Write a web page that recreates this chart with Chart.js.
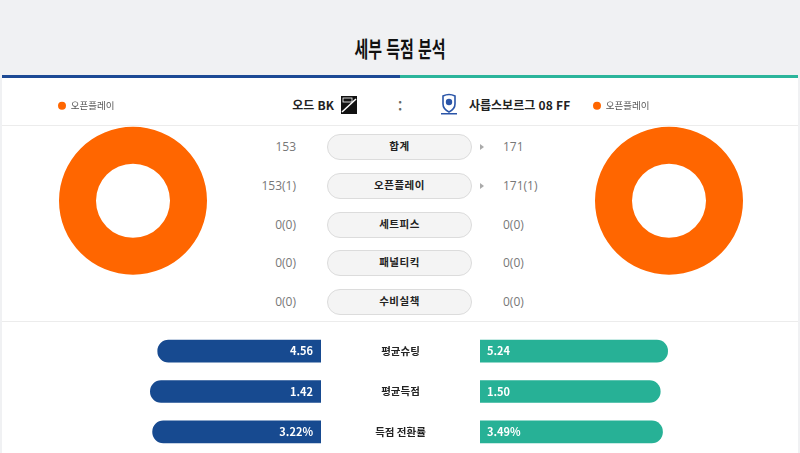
<!DOCTYPE html>
<html lang="ko">
<head>
<meta charset="utf-8">
<title>세부 득점 분석</title>
<script src="https://cdn.jsdelivr.net/npm/chart.js@4.4.1/dist/chart.umd.min.js"></script>
<style>
  html, body { margin: 0; padding: 0; }
  body {
    width: 800px; height: 453px; overflow: hidden; position: relative;
    background: #f0f1f3; font-family: "Noto Sans CJK KR", "Noto Sans", sans-serif;
  }
  .abs { position: absolute; }
  .title {
    left: 0; width: 800px; top: 30px; text-align: center;
    font-size: 22px; font-weight: 700; color: #111; line-height: 34px;
    transform: scaleX(0.68);
  }
  .panel { left: 2px; top: 75px; width: 796px; height: 378px; background: #fff; }
  .bar-home { left: 2px; top: 75px; width: 398px; height: 3px; background: #1d4a95; }
  .bar-away { left: 400px; top: 75px; width: 398px; height: 3px; background: #2bb59b; }
  .sep { left: 2px; width: 796px; height: 1px; background: #ececec; }
  .team { top: 95px; font-size: 12px; font-weight: 700; color: #222; line-height: 20px; white-space: nowrap; }
  .colon { left: 396px; top: 94px; width: 8px; text-align: center; font-size: 13px; color: #666; font-weight: 700; line-height: 24px; }
  .pill {
    left: 327px; width: 143px; height: 24px; border: 1px solid #dcdcdc; border-radius: 13px;
    background: #f4f4f4; text-align: center; font-size: 10.5px; font-weight: 700; color: #222;
    line-height: 21px; letter-spacing: 0.5px;
  }
  .val { font-family: "Open Sans", sans-serif; font-size: 12px; color: #777; line-height: 20px; white-space: nowrap; }
  .val.l { right: 504px; text-align: right; }
  .val.r { left: 503px; }
  .arrow { left: 480px; width: 0; height: 0; border-top: 3px solid transparent; border-bottom: 3px solid transparent; border-left: 4px solid #aaa; }
  canvas { position: absolute; }
</style>
</head>
<body>
<div class="abs panel"></div>
<div class="abs title">세부 득점 분석</div>
<div class="abs bar-home"></div>
<div class="abs bar-away"></div>
<div class="abs sep" style="top:125px"></div>
<div class="abs sep" style="top:321px"></div>

<div class="abs team" style="right:466px">오드 BK</div>
<svg class="abs" style="left:340px;top:95px" width="18" height="20" viewBox="0 0 18 20">
  <rect x="1" y="1" width="16" height="18" fill="#111"/>
  <path d="M2 17 L16 4" stroke="#fff" stroke-width="1.5"/>
  <rect x="3" y="3" width="9" height="4" fill="none" stroke="#fff" stroke-width="0.8"/>
</svg>
<div class="abs colon">:</div>
<svg class="abs" style="left:440px;top:93px" width="18" height="22" viewBox="0 0 18 22">
  <path d="M3 3 Q9 0 15 3 L15 11 Q15 16 9 19 Q3 16 3 11 Z" fill="#fff" stroke="#2a55a8" stroke-width="1.6"/>
  <circle cx="9" cy="9" r="3.2" fill="#2a55a8"/>
  <rect x="1" y="20" width="16" height="1.5" fill="#2a55a8"/>
</svg>
<div class="abs team" style="left:469px">사릅스보르그 08 FF</div>

<div id="rows"></div>

<canvas id="donutHome" style="left:48px;top:91px;width:170px;height:190px" width="170" height="190"></canvas>
<canvas id="donutAway" style="left:583px;top:91px;width:172px;height:190px" width="172" height="190"></canvas>
<canvas id="statHome" style="left:128px;top:331px;width:352px;height:121px" width="352" height="121"></canvas>
<canvas id="statAway" style="left:480px;top:331px;width:193px;height:121px" width="193" height="121"></canvas>

<script>
// 득점 유형별 (슈팅수(득점))
const rowLabels = ["합계", "오픈플레이", "세트피스", "패널티킥", "수비실책"];
const homeShots = [153, 153, 0, 0, 0];
const homeGoals = [null, 1, 0, 0, 0];
const awayShots = [171, 171, 0, 0, 0];
const awayGoals = [null, 1, 0, 0, 0];

// 도넛
const donutLabels = ["오픈플레이", "세트피스", "패널티킥", "수비실책"];
const donutColors = ["#ff6600", "#1d4a95", "#2bb59b", "#9e9e9e"];
const homeDonut = [153, 0, 0, 0];
const awayDonut = [171, 0, 0, 0];

// 하단 비교
const statLabels = ["평균슈팅", "평균득점", "득점 전환률"];
const homeStats = [4.56, 1.42, 3.22];
const awayStats = [5.24, 1.50, 3.49];
const statSuffix = ["", "", "%"];

const rowY = [147, 185.5, 224.5, 263, 302];
const KR = '"Noto Sans CJK KR", "Noto Sans", sans-serif';

// 가운데 표
const rowsEl = document.getElementById("rows");
let html = "";
rowLabels.forEach((lab, i) => {
  const y = rowY[i];
  const fmt = (s, g) => g === null ? String(s) : s + "(" + g + ")";
  html += `<div class="abs pill" style="top:${y - 13}px">${lab}</div>`;
  html += `<div class="abs val l" style="top:${y - 10}px">${fmt(homeShots[i], homeGoals[i])}</div>`;
  html += `<div class="abs val r" style="top:${y - 10}px">${fmt(awayShots[i], awayGoals[i])}</div>`;
  if (awayShots[i] > homeShots[i]) {
    html += `<div class="abs arrow" style="top:${y - 3}px"></div>`;
  }
});
rowsEl.innerHTML = html;

// 도넛 차트
const makeDonut = (id, data) => {
  return new Chart(document.getElementById(id), {
    type: "doughnut",
    data: {
      labels: donutLabels,
      datasets: [{ data: data, backgroundColor: donutColors, borderWidth: 0 }]
    },
    options: {
      responsive: false,
      animation: false,
      radius: 74,
      cutout: "50%",
      plugins: {
        tooltip: { enabled: false },
        legend: {
          position: "top",
          align: "start",
          labels: {
            usePointStyle: true,
            pointStyle: "circle",
            pointStyleWidth: 8,
            boxHeight: 5.66,
            padding: 10,
            color: "#555",
            font: { family: KR, size: 9.5 },
            filter: (item) => data[item.index] > 0
          }
        }
      }
    }
  });
};
makeDonut("donutHome", homeDonut);
makeDonut("donutAway", awayDonut);

// 하단 막대 (양 팀 비율)
const homeShare = homeStats.map((v, i) => v / (v + awayStats[i]));
const awayShare = awayStats.map((v, i) => v / (homeStats[i] + v));

const valueLabels = (values, side) => ({
  id: "valueLabels" + side,
  afterDatasetsDraw(chart) {
    const ctx = chart.ctx;
    const meta = chart.getDatasetMeta(0);
    ctx.save();
    ctx.fillStyle = "#fff";
    ctx.font = "bold 11px " + KR;
    ctx.textBaseline = "middle";
    meta.data.forEach((bar, i) => {
      const txt = values[i].toFixed(2) + statSuffix[i];
      if (side === "home") {
        ctx.textAlign = "right";
        ctx.fillText(txt, bar.base - 8, bar.y);
      } else {
        ctx.textAlign = "left";
        ctx.fillText(txt, bar.base + 7, bar.y);
      }
    });
    if (side === "home") {
      ctx.fillStyle = "#222";
      ctx.textAlign = "center";
      ctx.font = "bold 10.5px " + KR;
      const yScale = chart.scales.y;
      const cx = (chart.chartArea.right + chart.width) / 2;
      statLabels.forEach((lab, i) => ctx.fillText(lab, cx, yScale.getPixelForValue(i)));
    }
    ctx.restore();
  }
});

const makeStat = (id, share, values, side) => {
  const isHome = side === "home";
  return new Chart(document.getElementById(id), {
    type: "bar",
    data: {
      labels: statLabels,
      datasets: [{
        data: share,
        backgroundColor: isHome ? "#174a90" : "#27b196",
        barThickness: 22,
        borderSkipped: false,
        borderRadius: isHome
          ? { topLeft: 11, bottomLeft: 11, topRight: 0, bottomRight: 0 }
          : { topLeft: 0, bottomLeft: 0, topRight: 11, bottomRight: 11 }
      }]
    },
    options: {
      responsive: false,
      animation: false,
      indexAxis: "y",
      layout: { padding: { left: 0, right: isHome ? 159 : 0, top: 0, bottom: 0 } },
      scales: {
        x: { display: false, min: 0, max: 0.55, reverse: isHome },
        y: { display: false }
      },
      plugins: { legend: { display: false }, tooltip: { enabled: false } }
    },
    plugins: [valueLabels(values, side)]
  });
};
makeStat("statHome", homeShare, homeStats, "home");
makeStat("statAway", awayShare, awayStats, "away");
</script>
</body>
</html>
